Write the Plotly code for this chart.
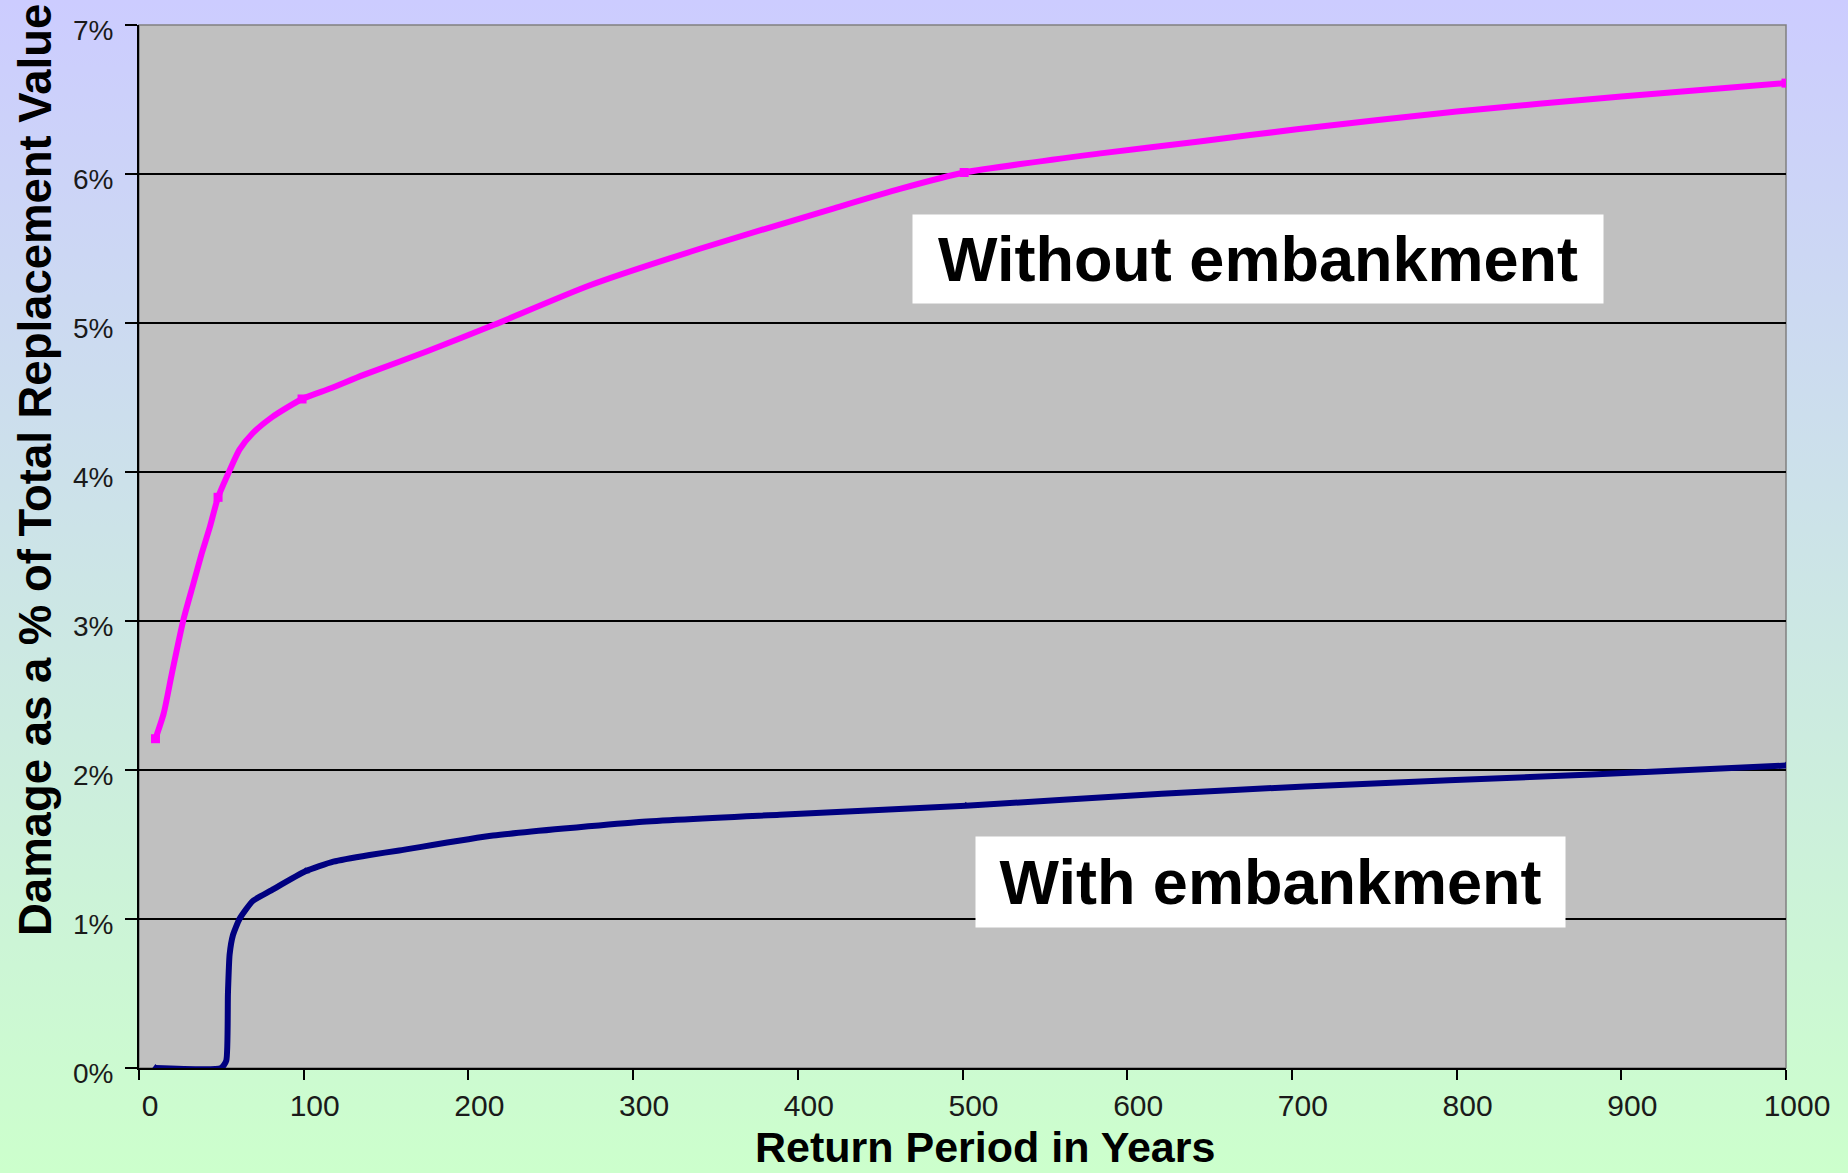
import base64
import plotly.graph_objects as go

# ---------------- data ----------------
rp_without = [10, 15, 20, 27, 33, 38, 43, 48, 55, 61, 69, 81, 99, 116, 136, 175, 216,
              273, 341, 422, 462, 501, 585, 645, 703, 800, 900, 1000]
dmg_without = [2.21, 2.38, 2.65, 3.01, 3.25, 3.45, 3.63, 3.83, 4.01, 4.15, 4.26, 4.37, 4.49,
               4.56, 4.65, 4.81, 4.99, 5.25, 5.50, 5.77, 5.90, 6.01, 6.14, 6.22, 6.30,
               6.42, 6.52, 6.61]

rp_with = [10, 50, 53, 54, 55, 57, 61, 69, 80, 101, 118, 140, 158, 215, 302, 389, 502,
           621, 708, 882, 1000]
dmg_with = [0.0, 0.0, 0.05, 0.5, 0.76, 0.89, 1.00, 1.12, 1.19, 1.32, 1.385, 1.43, 1.46,
            1.56, 1.65, 1.70, 1.76, 1.84, 1.89, 1.97, 2.03]

mk_rp_without = [10, 48, 99, 501, 1000]
mk_dmg_without = [2.21, 3.83, 4.49, 6.01, 6.61]
mk_rp_with = [10, 50, 101, 502, 1000]
mk_dmg_with = [0.0, 0.0, 1.32, 1.76, 2.03]

x_ticks = [0, 100, 200, 300, 400, 500, 600, 700, 800, 900, 1000]
y_ticks = [0, 1, 2, 3, 4, 5, 6, 7]

label_without = "Without embankment"
label_with = "With embankment"
x_title = "Return Period in Years"
y_title = "Damage as a % of Total Replacement Value"

# ---------------- layout geometry ----------------
W, H = 1848, 1173
L, R, T, B = 139, 62, 25, 105
PW, PH = W - L - R, H - T - B

FONT = "Liberation Sans, Arial, sans-serif"

svg = ('<svg xmlns="http://www.w3.org/2000/svg" width="100" height="100" '
       'viewBox="0 0 100 100" preserveAspectRatio="none">'
       '<defs><linearGradient id="g" x1="0" y1="0" x2="0" y2="1">'
       '<stop offset="0" stop-color="#CCCCFF"/>'
       '<stop offset="1" stop-color="#CCFFCC"/>'
       '</linearGradient></defs>'
       '<rect x="0" y="0" width="100" height="100" fill="url(#g)"/></svg>')
bg_src = "data:image/svg+xml;base64," + base64.b64encode(svg.encode()).decode()

fig = go.Figure()

fig.add_trace(go.Scatter(x=rp_without, y=dmg_without, mode="lines",
                         line=dict(color="#FF00FF", width=6, shape="spline", smoothing=0.6),
                         showlegend=False, hoverinfo="skip"))
fig.add_trace(go.Scatter(x=mk_rp_without, y=mk_dmg_without, mode="markers",
                         marker=dict(color="#FF00FF", symbol="square", size=9),
                         showlegend=False))
fig.add_trace(go.Scatter(x=rp_with, y=dmg_with, mode="lines",
                         line=dict(color="#000080", width=6, shape="spline", smoothing=0.5),
                         showlegend=False, hoverinfo="skip"))
fig.add_trace(go.Scatter(x=mk_rp_with, y=mk_dmg_with, mode="markers",
                         marker=dict(color="#000080", symbol="triangle-up", size=8),
                         showlegend=False))

fig.update_layout(
    width=W, height=H,
    margin=dict(l=L, r=R, t=T, b=B, pad=0, autoexpand=False),
    paper_bgcolor="#CCCCFF",
    plot_bgcolor="#C0C0C0",
    font=dict(family=FONT, color="#1a1a1a"),
    showlegend=False,
    images=[dict(source=bg_src, xref="paper", yref="paper",
                 x=-L / PW, y=1 + T / PH, sizex=W / PW, sizey=H / PH,
                 xanchor="left", yanchor="top", sizing="stretch", layer="below")],
    shapes=[dict(type="rect", xref="paper", yref="paper", x0=0, x1=1, y0=0, y1=1,
                 fillcolor="#C0C0C0", line=dict(color="#808080", width=1.5), layer="below")],
    xaxis=dict(range=[0, 1000], tickvals=x_ticks, ticktext=[str(v) for v in x_ticks],
               automargin=False,
               showgrid=False, zeroline=False, showline=True, linecolor="black", linewidth=2,
               ticks="outside", ticklen=10, tickwidth=1.5, tickcolor="black",
               tickfont=dict(family=FONT, size=30, color="#1a1a1a"),
               ticklabelshift=11, ticklabelstandoff=0),
    yaxis=dict(range=[0, 7], tickvals=y_ticks, ticktext=[f"{v}%" for v in y_ticks],
               automargin=False,
               showgrid=True, gridcolor="black", gridwidth=2, zeroline=False,
               showline=True, linecolor="black", linewidth=2,
               ticks="outside", ticklen=12, tickwidth=2, tickcolor="black",
               tickfont=dict(family=FONT, size=28, color="#1a1a1a"),
               ticklabelshift=5, ticklabelstandoff=6),
    annotations=[
        dict(text=f"<b>{label_without}</b>", xref="paper", yref="paper",
             x=(1258 - L) / PW, y=(T + PH - 259) / PH, xanchor="center", yanchor="middle",
             showarrow=False, bgcolor="white", borderpad=4, width=682, height=80,
             font=dict(family=FONT, size=63, color="black")),
        dict(text=f"<b>{label_with}</b>", xref="paper", yref="paper",
             x=(1270.5 - L) / PW, y=(T + PH - 882) / PH, xanchor="center", yanchor="middle",
             showarrow=False, bgcolor="white", borderpad=4, width=581, height=82,
             font=dict(family=FONT, size=63, color="black")),
        dict(text=f"<b>{y_title}</b>", xref="paper", yref="paper",
             x=(35 - L) / PW, y=(T + PH - 470) / PH, xanchor="center", yanchor="middle",
             textangle=-90, showarrow=False,
             font=dict(family=FONT, size=45.5, color="black")),
        dict(text=f"<b>{x_title}</b>", xref="paper", yref="paper",
             x=(985 - L) / PW, y=(T + PH - 1147) / PH, xanchor="center", yanchor="middle",
             showarrow=False,
             font=dict(family=FONT, size=43, color="black")),
    ],
)

fig.write_html("out.html", config={"displayModeBar": False},
               post_script="document.body.style.margin='0px';")
